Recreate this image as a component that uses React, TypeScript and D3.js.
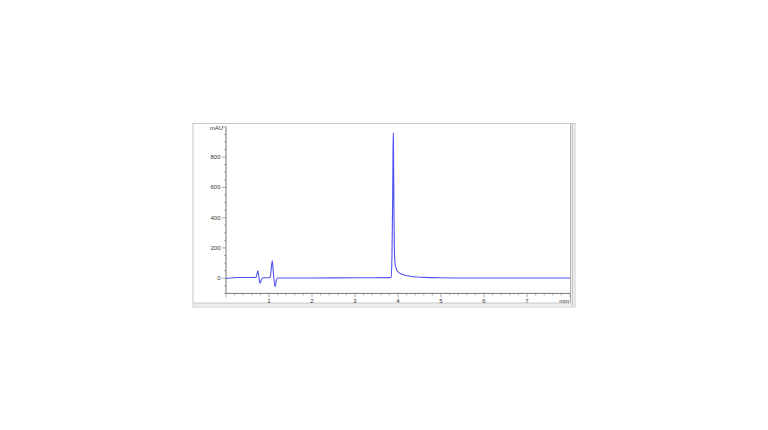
import React from "react";
import * as d3 from "d3";

const times = [0, 0.3, 0.6, 0.7, 0.74, 0.76, 0.79, 0.83, 0.87, 1.0, 1.03, 1.077, 1.1, 1.14, 1.17, 1.2, 1.5, 2, 3, 3.8, 3.84, 3.86, 3.875, 3.885, 3.891, 3.895, 3.905, 3.915, 3.935, 3.97, 4.01, 4.08, 4.16, 4.35, 4.6, 5.0, 5.5, 6, 7, 8];
const absorb = [-2, 5, 5, 6, 50, 20, -33, -5, 3, 3, 10, 115, 40, -55, -15, 2, 2, 2, 3, 4, 8, 150, 500, 850, 960, 900, 450, 200, 90, 55, 40, 28, 20, 10, 6, 3, 2, 2, 2, 2];
const yTicks = [0, 200, 400, 600, 800];
const xTicks = [1, 2, 3, 4, 5, 6, 7];
const yUnit = "mAU";
const xUnit = "min";

export default function App() {
  const left = 226, right = 570, top = 126.8, bottom = 293.4;
  const x = d3.scaleLinear().domain([0, 8]).range([left, right]);
  const y = d3.scaleLinear().domain([-100, 1000]).range([bottom, top]);
  const pts: [number, number][] = times.map((t, i) => [t, absorb[i]]);
  const line = d3.line<[number, number]>().x(d => x(d[0])).y(d => y(d[1])).curve(d3.curveMonotoneX);
  const minorX = d3.range(0, 8.001, 0.2).map(v => +v.toFixed(2));
  const minorY = d3.range(-100, 1000.1, 50);
  const font = "'Liberation Sans', Arial, sans-serif";
  return (
    <svg width={768} height={430} style={{ position: "absolute", left: 0, top: 0, background: "#fff" }}>
      {/* panel frame */}
      <rect x={193} y={123.5} width={382} height={183.5} fill="#fff" stroke="#c8c8c8" strokeWidth={1} />
      <rect x={570.5} y={124} width={4} height={182.5} fill="#ececec" />
      <rect x={193.5} y={303} width={381} height={3.5} fill="#ececec" />
      <line x1={570.5} y1={123.5} x2={570.5} y2={303} stroke="#b4b4b4" />
      <line x1={572.5} y1={123.5} x2={572.5} y2={306.5} stroke="#c8c8c8" />
      <line x1={193} y1={303} x2={570.5} y2={303} stroke="#c8c8c8" />
      {/* y axis */}
      <line x1={left} y1={top} x2={left} y2={bottom} stroke="#555" strokeWidth={0.8} />
      {minorY.map(v => (
        <line key={"my" + v} x1={left - (v % 200 === 0 ? 4 : 2)} x2={left} y1={y(v)} y2={y(v)} stroke="#777" strokeWidth={0.6} />
      ))}
      {yTicks.map(v => (
        <text key={"ty" + v} x={left - 5.5} y={y(v)} dy="0.35em" fontSize={6} fontFamily={font} fill="#333" textAnchor="end">{v}</text>
      ))}
      <text x={left - 3} y={y(1000) + 1.5} dy="0.35em" fontSize={6} fontFamily={font} fill="#333" textAnchor="end">{yUnit}</text>
      {/* x axis */}
      <line x1={left} y1={bottom} x2={right} y2={bottom} stroke="#555" strokeWidth={0.8} />
      {minorX.map(v => (
        <line key={"mx" + v} x1={x(v)} x2={x(v)} y1={bottom} y2={bottom + (Math.abs(v - Math.round(v)) < 1e-6 ? 4 : 2)} stroke="#777" strokeWidth={0.6} />
      ))}
      {xTicks.map(v => (
        <text key={"tx" + v} x={x(v)} y={bottom + 7.5} dy="0.35em" fontSize={6} fontFamily={font} fill="#333" textAnchor="middle">{v}</text>
      ))}
      <text x={right - 1} y={bottom + 7.5} dy="0.35em" fontSize={6} fontFamily={font} fill="#333" textAnchor="end">{xUnit}</text>
      {/* trace */}
      <path d={line(pts) || ""} fill="none" stroke="#5050f0" strokeWidth={1.1} strokeLinejoin="round" />
    </svg>
  );
}
